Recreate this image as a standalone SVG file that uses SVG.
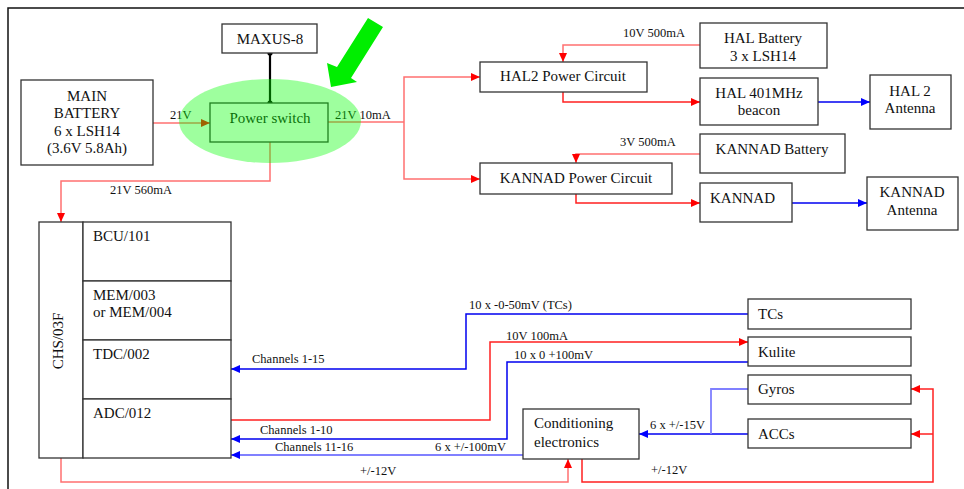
<svg xmlns="http://www.w3.org/2000/svg" width="964" height="489" viewBox="0 0 964 489" font-family="'Liberation Serif', 'Times New Roman', serif">
<style>
.box{fill:#fff;stroke:#333;stroke-width:1.3}
.t{font-family:'Liberation Serif','Times New Roman',serif;font-size:15px;fill:#111}
.c{text-anchor:middle}
.l{font-family:'Liberation Serif','Times New Roman',serif;font-size:12.5px;fill:#111}
.r{fill:none;stroke:#ff2020;stroke-width:1.5}
.rp{fill:none;stroke:#ff7070;stroke-width:1.5}
.b{fill:none;stroke:#0000f0;stroke-width:1.5}
.bp{fill:none;stroke:#8080ff;stroke-width:1.8}
.ra{marker-end:url(#ar)}
.ba{marker-end:url(#ab)}
</style>
<defs>
<marker id="ar" markerUnits="userSpaceOnUse" markerWidth="9" markerHeight="8" refX="9" refY="4" orient="auto"><path d="M0,0 L9,4 L0,8 z" fill="#ff0000"/></marker>
<marker id="ab" markerUnits="userSpaceOnUse" markerWidth="9" markerHeight="8" refX="9" refY="4" orient="auto"><path d="M0,0 L9,4 L0,8 z" fill="#0000ff"/></marker>
</defs>
<rect width="964" height="489" fill="#fff"/>
<path d="M8,489 V8 H964" fill="none" stroke="#111" stroke-width="1.5"/>

<g id="connectors">
<path class="rp ra" d="M153,123 H210"/>
<path class="rp" d="M328,122 H404"/>
<path class="rp ra" d="M404,122 V77 H480"/>
<path class="rp ra" d="M404,122 V179 H480"/>
<path class="rp ra" d="M270,142 V181 H61 V222"/>
<path class="rp ra" d="M700,45 H563 V62"/>
<path class="r ra" d="M563,92 V102 H700"/>
<path class="b ba" d="M818,102 H870"/>
<path class="rp ra" d="M700,154 H576 V163"/>
<path class="r ra" d="M576,194 V203 H700"/>
<path class="b ba" d="M792,203 H867"/>
<path class="b ba" d="M748,314 H466 V369 H231"/>
<path class="r ra" d="M231,420 H490 V342 H748"/>
<path class="b ba" d="M748,362 H507 V439 H231"/>
<path class="bp ba" d="M523,455 H231"/>
<path class="rp ra" d="M61,458 V482 H568 V459"/>
<path class="b ba" d="M748,434 H639"/>
<path class="bp" d="M748,389 H711 V434"/>
<path class="r ra" d="M582,459 V482 H933 V389 H911"/>
<path class="r ra" d="M933,434 H911"/>
<path d="M270,53 V103" stroke="#000" stroke-width="2.2" fill="none"/>
<circle cx="270" cy="53" r="2.6" fill="#000"/>
<circle cx="270" cy="103" r="2.6" fill="#000"/>
<text class="l" x="170" y="119">21V</text>
<text class="l" x="335" y="119">21V 10mA</text>
<text class="l" x="110" y="194">21V 560mA</text>
<text class="l" x="623" y="37">10V 500mA</text>
<text class="l" x="620" y="146">3V 500mA</text>
<text class="l" x="469" y="309">10 x -0-50mV (TCs)</text>
<text class="l" x="506" y="340">10V 100mA</text>
<text class="l" x="514" y="359">10 x 0 +100mV</text>
<text class="l" x="252" y="363">Channels 1-15</text>
<text class="l" x="260" y="434">Channels 1-10</text>
<text class="l" x="275" y="451">Channels 11-16</text>
<text class="l" x="435" y="451">6 x +/-100mV</text>
<text class="l" x="360" y="475">+/-12V</text>
<text class="l" x="650" y="429">6 x +/-15V</text>
<text class="l" x="651" y="474">+/-12V</text>
</g>

<g id="maxus"><rect class="box" x="222" y="24" width="95" height="29"/><text class="t c" x="270" y="44">MAXUS-8</text></g>
<g id="main-battery"><rect class="box" x="21" y="80" width="132" height="85"/>
<text class="t c" x="87" y="101">MAIN</text><text class="t c" x="87" y="118">BATTERY</text><text class="t c" x="87" y="136">6 x LSH14</text><text class="t c" x="87" y="153">(3.6V 5.8Ah)</text></g>
<g id="power-switch"><rect class="box" x="210" y="103" width="118" height="39"/><text class="t c" x="270" y="123">Power switch</text></g>
<g id="hal-battery"><rect class="box" x="700" y="23" width="127" height="45"/><text class="t c" x="763" y="43">HAL Battery</text><text class="t c" x="763" y="61">3 x LSH14</text></g>
<g id="hal2-power"><rect class="box" x="480" y="62" width="167" height="30"/><text class="t c" x="563" y="81">HAL2 Power Circuit</text></g>
<g id="hal-beacon"><rect class="box" x="700" y="78" width="118" height="47"/><text class="t c" x="759" y="98">HAL 401MHz</text><text class="t c" x="759" y="115">beacon</text></g>
<g id="hal-antenna"><rect class="box" x="870" y="75" width="81" height="54"/><text class="t c" x="910" y="96">HAL 2</text><text class="t c" x="910" y="113">Antenna</text></g>
<g id="kannad-battery"><rect class="box" x="700" y="134" width="145" height="39"/><text class="t c" x="772" y="154">KANNAD Battery</text></g>
<g id="kannad-power"><rect class="box" x="480" y="163" width="192" height="31"/><text class="t c" x="576" y="183">KANNAD Power Circuit</text></g>
<g id="kannad"><rect class="box" x="700" y="183" width="92" height="39"/><text class="t" x="710" y="203">KANNAD</text></g>
<g id="kannad-antenna"><rect class="box" x="867" y="177" width="91" height="53"/><text class="t c" x="912" y="197">KANNAD</text><text class="t c" x="912" y="215">Antenna</text></g>
<g id="chs"><rect class="box" x="39" y="222" width="44" height="236"/><text class="t c" transform="translate(63,341) rotate(-90)">CHS/03F</text></g>
<g id="bcu"><rect class="box" x="83" y="222" width="148" height="59"/><text class="t" x="93" y="241">BCU/101</text></g>
<g id="mem"><rect class="box" x="83" y="281" width="148" height="59"/><text class="t" x="93" y="300">MEM/003</text><text class="t" x="93" y="317">or MEM/004</text></g>
<g id="tdc"><rect class="box" x="83" y="340" width="148" height="59"/><text class="t" x="93" y="359">TDC/002</text></g>
<g id="adc"><rect class="box" x="83" y="399" width="148" height="59"/><text class="t" x="93" y="418">ADC/012</text></g>
<g id="tcs"><rect class="box" x="748" y="299" width="163" height="30"/><text class="t" x="758" y="319">TCs</text></g>
<g id="kulite"><rect class="box" x="748" y="337" width="163" height="29"/><text class="t" x="758" y="357">Kulite</text></g>
<g id="gyros"><rect class="box" x="748" y="375" width="163" height="29"/><text class="t" x="758" y="394">Gyros</text></g>
<g id="accs"><rect class="box" x="748" y="419" width="163" height="29"/><text class="t" x="758" y="439">ACCs</text></g>
<g id="conditioning"><rect class="box" x="523" y="409" width="116" height="50"/><text class="t" x="534" y="428">Conditioning</text><text class="t" x="534" y="447">electronics</text></g>

<g id="highlight">
<ellipse cx="270" cy="121" rx="91" ry="42" fill="#00ff00" fill-opacity="0.38"/>
<polygon points="368,18 383,27 351,78 357,82 331,87 327,63 337,67" fill="#00ee00"/>
</g>
</svg>
